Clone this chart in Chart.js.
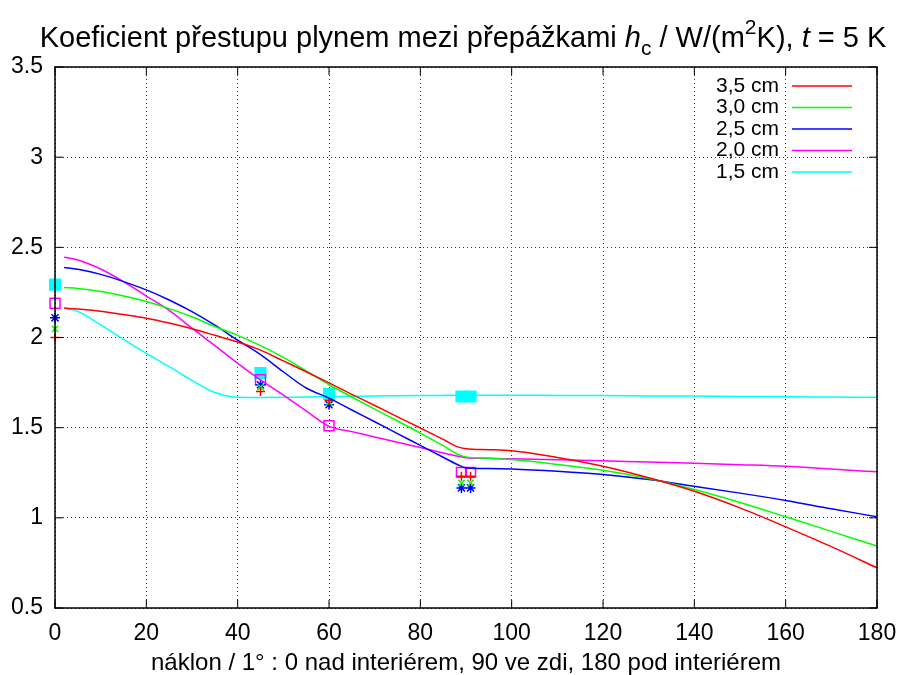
<!DOCTYPE html>
<html>
<head>
<meta charset="utf-8">
<script src="https://cdn.jsdelivr.net/npm/chart.js@4.4.1/dist/chart.umd.min.js"></script>
<style>
  html, body { margin: 0; padding: 0; background: #fff; }
</style>
</head>
<body>
<canvas id="graf" width="901" height="675"></canvas>
<script>
// sklon (°) pro modelové křivky
var sklon = [2, 5, 10, 15, 20, 25, 30, 35, 40, 45, 50, 55, 60, 65, 70, 75, 80, 85, 88, 90, 95, 100, 110, 120, 130, 140, 150, 160, 170, 180];
// hc pro jednotlivé vzdálenosti přepážek
var h35 = [2.163, 2.158, 2.145, 2.127, 2.107, 2.08, 2.048, 2.012, 1.975, 1.93, 1.87, 1.81, 1.748, 1.685, 1.623, 1.56, 1.498, 1.435, 1.395, 1.383, 1.378, 1.372, 1.335, 1.286, 1.222, 1.147, 1.055, 0.95, 0.84, 0.723];
var h30 = [2.277, 2.272, 2.255, 2.23, 2.2, 2.16, 2.115, 2.06, 2.012, 1.955, 1.89, 1.815, 1.738, 1.67, 1.603, 1.537, 1.47, 1.4, 1.355, 1.338, 1.33, 1.323, 1.296, 1.264, 1.218, 1.157, 1.085, 1.006, 0.925, 0.843];
var h25 = [2.388, 2.378, 2.35, 2.31, 2.264, 2.208, 2.143, 2.068, 1.985, 1.905, 1.81, 1.72, 1.664, 1.598, 1.533, 1.467, 1.402, 1.336, 1.297, 1.277, 1.274, 1.271, 1.258, 1.24, 1.212, 1.175, 1.137, 1.096, 1.05, 1.006];
var h20 = [2.445, 2.43, 2.38, 2.31, 2.23, 2.15, 2.052, 1.955, 1.857, 1.765, 1.68, 1.593, 1.507, 1.478, 1.448, 1.419, 1.39, 1.36, 1.343, 1.333, 1.33, 1.327, 1.322, 1.316, 1.309, 1.303, 1.295, 1.286, 1.271, 1.255];
var h15 = [2.163, 2.145, 2.07, 1.99, 1.912, 1.838, 1.762, 1.695, 1.668, 1.667, 1.668, 1.67, 1.672, 1.674, 1.676, 1.677, 1.678, 1.679, 1.68, 1.68, 1.68, 1.68, 1.679, 1.678, 1.676, 1.675, 1.673, 1.672, 1.67, 1.668];

// naměřené body
var sklonMereni = [0, 45, 60, 89, 91];
var m35 = [2.0, 1.70, 1.65, 1.23, 1.23];
var m30 = [2.048, 1.725, 1.642, 1.194, 1.194];
var m25 = [2.109, 1.738, 1.627, 1.166, 1.166];
var m20 = [2.19, 1.766, 1.511, 1.252, 1.252];
var m15 = [2.293, 1.803, 1.687, 1.673, 1.673];

var popisky = ['3,5 cm', '3,0 cm', '2,5 cm', '2,0 cm', '1,5 cm'];
var barvy = ['#ff0000', '#00ff00', '#0000ff', '#ff00ff', '#00ffff'];
var znacky = ['cross', 'crossRot', 'star', 'rect', 'rect'];
var xTicks = [0, 20, 40, 60, 80, 100, 120, 140, 160, 180];
var yTicks = [0.5, 1, 1.5, 2, 2.5, 3, 3.5];

var PISMO = '"Liberation Sans", Arial, sans-serif';

function body(xs, ys) {
  return xs.map(function (x, i) { return { x: x, y: ys[i] }; });
}

var krivky = [h35, h30, h25, h20, h15];
var mereni = [m35, m30, m25, m20, m15];
var datasets = [];

krivky.forEach(function (k, i) {
  datasets.push({
    label: popisky[i],
    data: body(sklon, k),
    borderColor: barvy[i],
    borderWidth: 1.5,
    pointRadius: 0,
    fill: false,
    cubicInterpolationMode: 'monotone'
  });
});

mereni.forEach(function (m, i) {
  var velikost = [4.5, 4.5, 5, 7, 7.5][i];
  datasets.push({
    label: 'mereni ' + popisky[i],
    data: body(sklonMereni, m),
    showLine: false,
    borderColor: barvy[i],
    backgroundColor: i === 4 ? barvy[i] : 'rgba(0,0,0,0)',
    borderWidth: 1.5,
    pointStyle: znacky[i],
    pointRadius: velikost,
    clip: false
  });
});

// rámeček, vnitřní značky, legenda a titulek ve stylu gnuplotu
var gnuplotStyl = {
  id: 'gnuplotStyl',
  afterDraw: function (chart) {
    var ctx = chart.ctx;
    var a = chart.chartArea;
    var sx = chart.scales.x, sy = chart.scales.y;
    ctx.save();
    ctx.strokeStyle = '#000';
    ctx.lineWidth = 1.5;
    ctx.strokeRect(a.left, a.top, a.right - a.left, a.bottom - a.top);
    ctx.lineWidth = 1;
    ctx.beginPath();
    xTicks.forEach(function (t) {
      var px = sx.getPixelForValue(t);
      ctx.moveTo(px, a.bottom); ctx.lineTo(px, a.bottom - 8);
      ctx.moveTo(px, a.top); ctx.lineTo(px, a.top + 8);
    });
    yTicks.forEach(function (t) {
      var py = sy.getPixelForValue(t);
      ctx.moveTo(a.left, py); ctx.lineTo(a.left + 8, py);
      ctx.moveTo(a.right, py); ctx.lineTo(a.right - 8, py);
    });
    ctx.stroke();

    // legenda
    ctx.font = '21px ' + PISMO;
    ctx.textAlign = 'right';
    ctx.textBaseline = 'middle';
    popisky.forEach(function (p, i) {
      var y = 86 + i * 21.5;
      ctx.fillStyle = '#000';
      ctx.fillText(p, 779, y);
      ctx.strokeStyle = barvy[i];
      ctx.lineWidth = 1.5;
      ctx.beginPath();
      ctx.moveTo(792, y); ctx.lineTo(852, y);
      ctx.stroke();
    });

    // titulek s indexy
    var casti = [
      { t: 'Koeficient přestupu plynem mezi přepážkami ', f: '29px ', dy: 0 },
      { t: 'h', f: 'italic 29px ', dy: 0 },
      { t: 'c', f: '21px ', dy: 8 },
      { t: ' / W/(m', f: '29px ', dy: 0 },
      { t: '2', f: '21px ', dy: -13 },
      { t: 'K), ', f: '29px ', dy: 0 },
      { t: 't', f: 'italic 29px ', dy: 0 },
      { t: ' = 5 K', f: '29px ', dy: 0 }
    ];
    ctx.textAlign = 'left';
    ctx.textBaseline = 'alphabetic';
    ctx.fillStyle = '#000';
    var sirka = 0;
    casti.forEach(function (c) { ctx.font = c.f + PISMO; sirka += ctx.measureText(c.t).width; });
    var x = 463 - sirka / 2;
    casti.forEach(function (c) {
      ctx.font = c.f + PISMO;
      ctx.fillText(c.t, x, 47 + c.dy);
      x += ctx.measureText(c.t).width;
    });
    ctx.restore();
  }
};

new Chart(document.getElementById('graf').getContext('2d'), {
  type: 'line',
  data: { datasets: datasets },
  plugins: [gnuplotStyl],
  options: {
    responsive: false,
    animation: false,
    devicePixelRatio: 1,
    layout: { padding: { top: 67, right: 24, left: 0, bottom: 0 } },
    plugins: {
      legend: { display: false },
      title: { display: false },
      tooltip: { enabled: false }
    },
    scales: {
      x: {
        type: 'linear',
        min: 0,
        max: 180,
        afterBuildTicks: function (s) { s.ticks = xTicks.map(function (v) { return { value: v }; }); },
        afterFit: function (s) { s.height = 67; s.paddingLeft = 0; s.paddingRight = 0; },
        ticks: { color: '#000', font: { size: 23, family: PISMO }, padding: 12, maxRotation: 0 },
        grid: { color: '#333', lineWidth: 1, drawTicks: false },
        border: { display: false, dash: [1, 3] },
        title: {
          display: true,
          text: 'náklon / 1° : 0 nad interiérem, 90 ve zdi, 180 pod interiérem',
          color: '#000',
          font: { size: 24, family: PISMO },
          padding: { top: 0, bottom: -3 }
        }
      },
      y: {
        min: 0.5,
        max: 3.5,
        afterBuildTicks: function (s) { s.ticks = yTicks.map(function (v) { return { value: v }; }); },
        afterFit: function (s) { s.width = 55; },
        ticks: {
          color: '#000',
          font: { size: 23, family: PISMO },
          padding: 12,
          callback: function (v) { return String(v); }
        },
        grid: { color: '#333', lineWidth: 1, drawTicks: false },
        border: { display: false, dash: [1, 3] }
      }
    }
  }
});
</script>
</body>
</html>
